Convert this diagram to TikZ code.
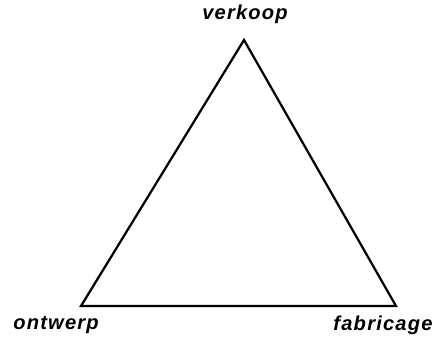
\documentclass[tikz,border=0pt]{standalone}
\usepackage{fontspec}
\newfontfamily\labelfont[LetterSpace=6]{Liberation Sans}
\usetikzlibrary{positioning}
\tikzset{corner label/.style={inner sep=0pt,font=\labelfont\fontsize{14.3}{16}\selectfont\bfseries\itshape}}

\begin{document}
\begin{tikzpicture}[x=0.025cm,y=-0.025cm,line width=1.6pt]
    \useasboundingbox (0,0) rectangle (440,343);
    \coordinate (top) at (244,40);
    \coordinate (left) at (81,306);
    \coordinate (right) at (396,306);
    \node[corner label] (verkoop) at (245,14) {verkoop};
    \node[corner label] (ontwerp) at (56,325) {ontwerp};
    \node[corner label] (fabricage) at (383,325) {fabricage};
    \draw (top) -- (left) -- (right) -- cycle;
  \end{tikzpicture}
\end{document}
